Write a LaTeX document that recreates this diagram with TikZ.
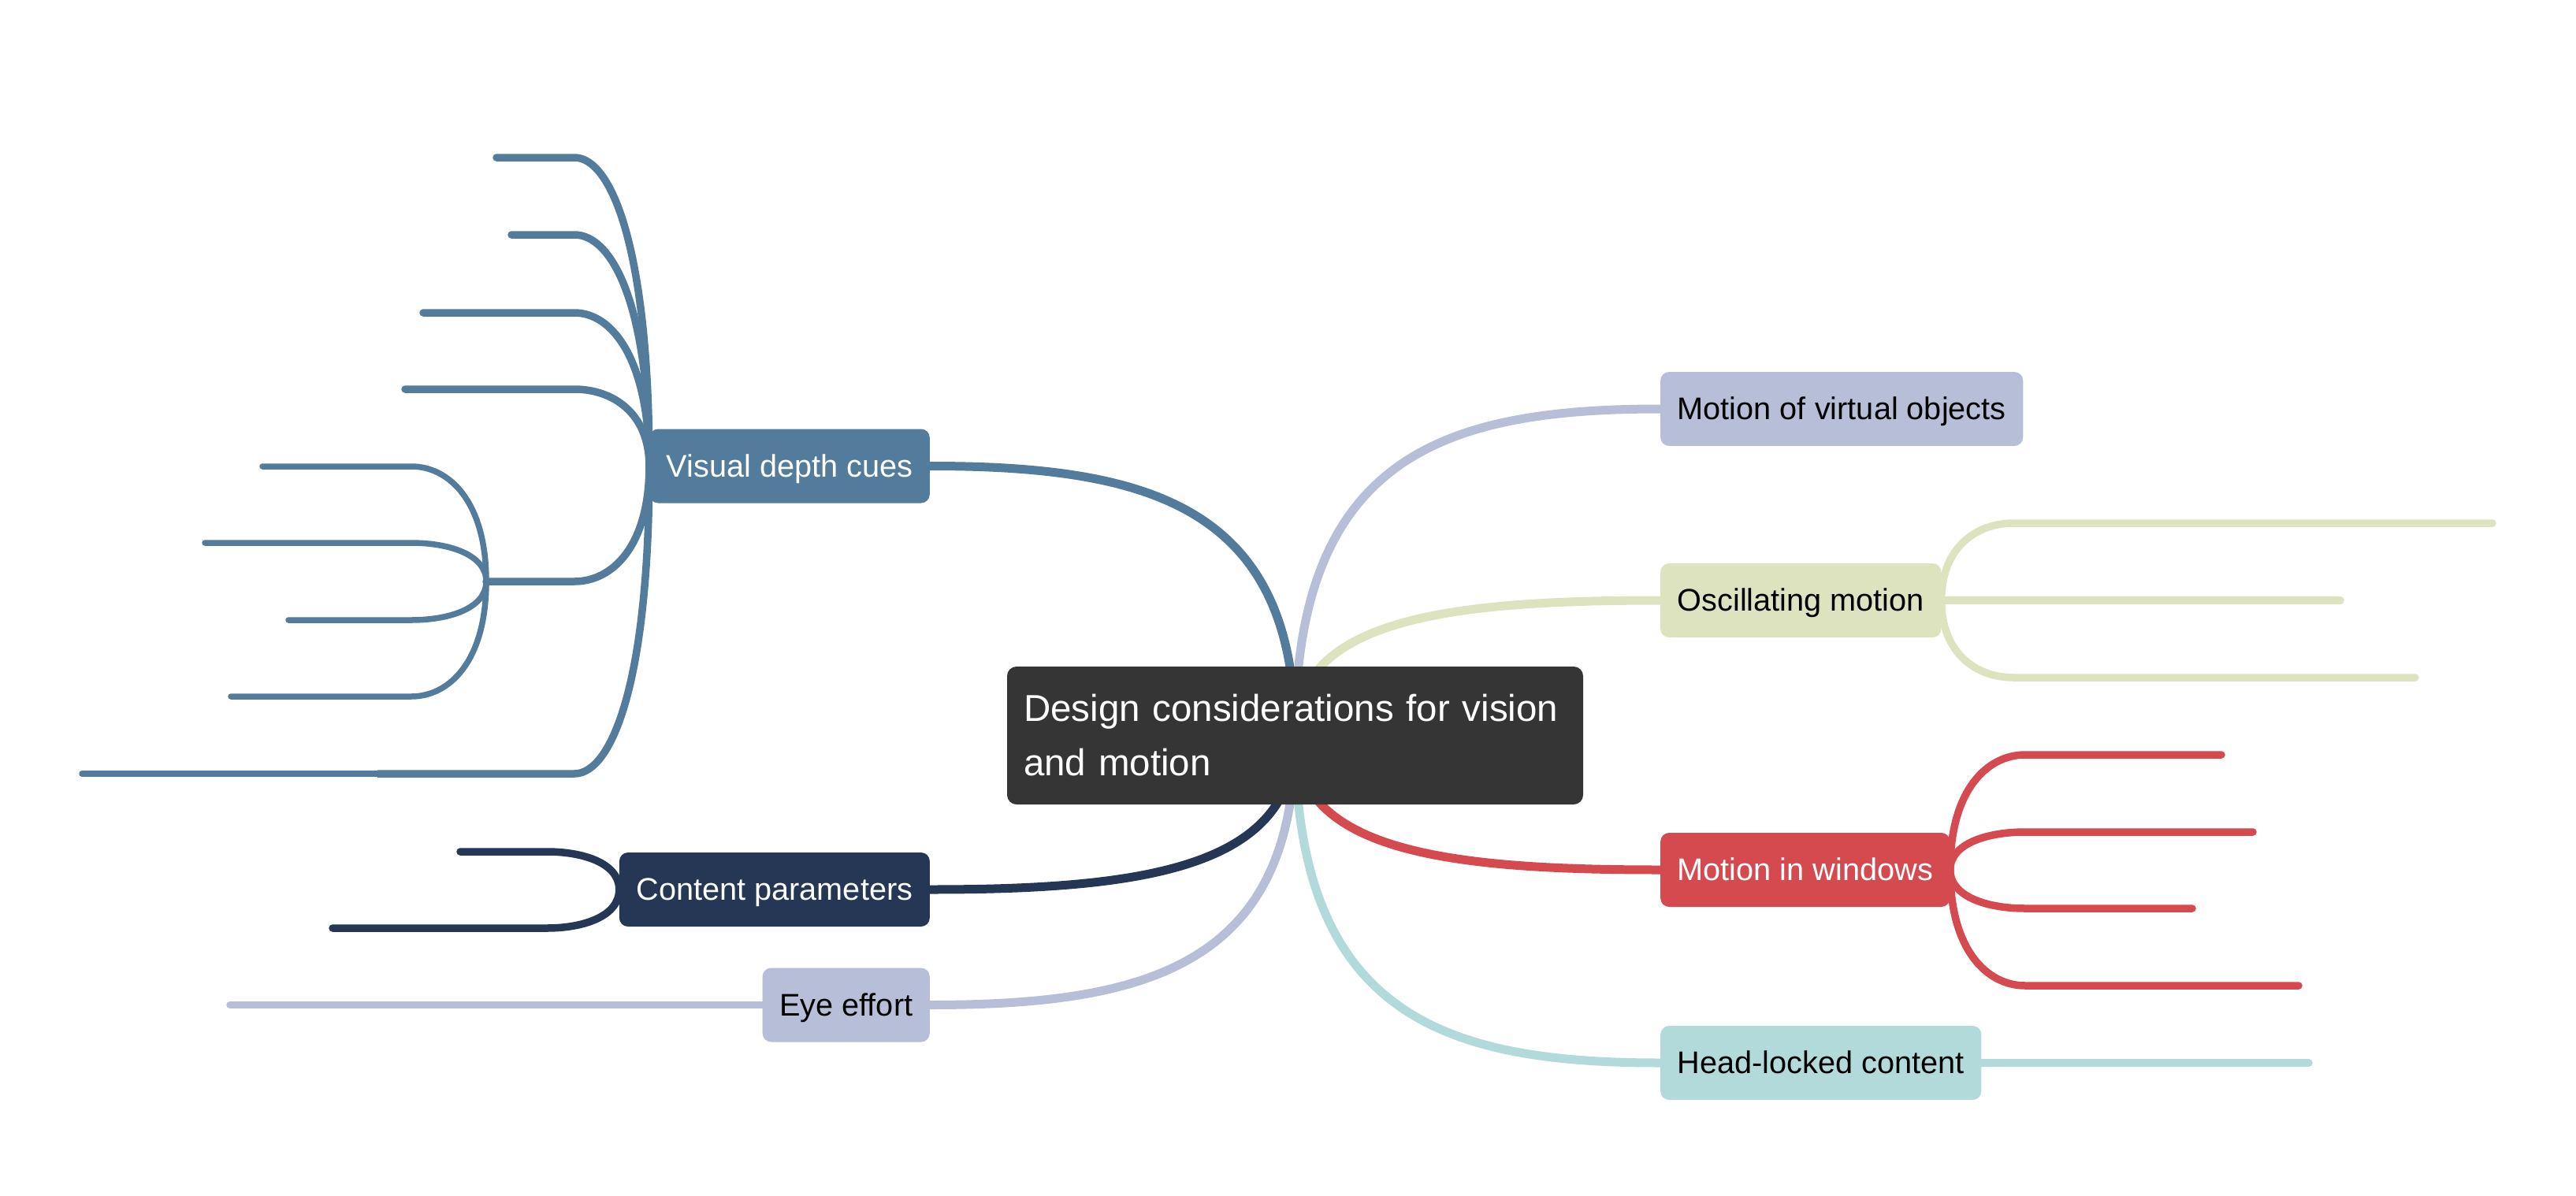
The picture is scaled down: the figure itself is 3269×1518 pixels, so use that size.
\documentclass[tikz,border=0pt]{standalone}
\usepackage{fontspec}
\setmainfont{Liberation Sans}
\usetikzlibrary{calc,backgrounds}
\definecolor{cdark}{HTML}{353535}
\definecolor{csteel}{HTML}{537B9C}
\definecolor{cnavy}{HTML}{263655}
\definecolor{clav}{HTML}{B6BED8}
\definecolor{coli}{HTML}{DDE3BF}
\definecolor{cred}{HTML}{D44A4E}
\definecolor{cteal}{HTML}{B3DADB}
\begin{document}
\begin{tikzpicture}[x=1pt,y=-1pt,
  central/.style={fill=cdark, text=white, rounded corners=12pt, inner xsep=21pt, inner ysep=0pt,
    text width=689pt, align=left, minimum height=175pt, font=\fontsize{47.5pt}{69pt}\selectfont},
  branch/.style={rounded corners=11pt, inner xsep=21.5pt, inner ysep=0pt, minimum height=94pt,
    text height=32pt, text depth=5pt, font=\fontsize{39.7pt}{48pt}\selectfont},
  mainlink/.style={line width=11pt, to path={.. controls ($(\tikztostart)!0.85!(\tikztostart|-\tikztotarget)$) and ($(\tikztotarget)!0.6!(\tikztostart|-\tikztotarget)$) .. (\tikztotarget) \tikztonodes}},
  forklink/.style={to path={.. controls ($(\tikztostart)!0.7!(\tikztostart|-\tikztotarget)$) and ($(\tikztotarget)!0.5!(\tikztostart|-\tikztotarget)$) .. (\tikztotarget) \tikztonodes}},
  subline/.style={line width=9.5pt, line cap=round},
  subsubline/.style={line width=7.5pt, line cap=round}
]
\useasboundingbox (0,0) rectangle (3269,1518);

% nodes
\node[central] (ctr) at (1643.5,933.5) {Design considerations for vision\\and motion};
\node[branch, fill=csteel, text=white, anchor=east] (vdc) at (1180,591.5) {Visual depth cues};
\node[branch, fill=cnavy, text=white, anchor=east] (cp) at (1180,1129) {Content parameters};
\node[branch, fill=clav, text=black, anchor=east] (ee) at (1180,1275.5) {Eye effort};
\node[branch, fill=clav, text=black, anchor=west] (movo) at (2107,519) {Motion of virtual objects};
\node[branch, fill=coli, text=black, anchor=west] (osc) at (2107,762) {Oscillating motion};
\node[branch, fill=cred, text=white, anchor=west] (miw) at (2107,1104) {Motion in windows};
\node[branch, fill=cteal, text=black, anchor=west] (hlc) at (2107,1349) {Head-locked content};

% coordinates: Visual depth cues subtree
\coordinate (v1) at (729,200);  \coordinate (v1t) at (630,200);
\coordinate (v2) at (729,298);  \coordinate (v2t) at (649,298);
\coordinate (v3) at (729,397);  \coordinate (v3t) at (537,397);
\coordinate (v4) at (729,494);  \coordinate (v4t) at (514,494);
\coordinate (v5) at (729,738);  \coordinate (v5f) at (617,738);
\coordinate (v6) at (729,982);  \coordinate (v6m) at (479,982); \coordinate (v6t) at (104,982);
\coordinate (w1) at (522,592);  \coordinate (w1t) at (333,592);
\coordinate (w2) at (522,689);  \coordinate (w2t) at (260,689);
\coordinate (w3) at (522,787);  \coordinate (w3t) at (366,787);
\coordinate (w4) at (522,884);  \coordinate (w4t) at (293,884);
% Content parameters
\coordinate (c1) at (694,1081); \coordinate (c1t) at (584,1081);
\coordinate (c2) at (694,1178); \coordinate (c2t) at (422,1178);
% Eye effort
\coordinate (eet) at (292,1275.5);
% Oscillating motion
\coordinate (o1) at (2555,664);  \coordinate (o1t) at (3163,664);
\coordinate (o2t) at (2970,762);
\coordinate (o3) at (2555,860);  \coordinate (o3t) at (3065,860);
% Motion in windows
\coordinate (m1) at (2570,958);  \coordinate (m1t) at (2819,958);
\coordinate (m2) at (2570,1056); \coordinate (m2t) at (2859,1056);
\coordinate (m3) at (2570,1153); \coordinate (m3t) at (2782,1153);
\coordinate (m4) at (2570,1251); \coordinate (m4t) at (2917,1251);
% Head-locked content
\coordinate (ht) at (2930,1349);

\begin{pgfonlayer}{background}
% main connectors
\draw[mainlink, csteel] (ctr.center) to (vdc.east);
\draw[mainlink, cnavy] (ctr.center) to (cp.east);
\draw[mainlink, clav] (ctr.center) to (ee.east);
\draw[mainlink, cteal] (ctr.center) to (hlc.west);
\draw[mainlink, cred] (ctr.center) to (miw.west);
\draw[mainlink, coli] (ctr.center) to (osc.west);
\draw[mainlink, clav] (ctr.center) to (movo.west);

% Visual depth cues
\draw[subline, csteel] (vdc.west) to[forklink] (v1) -- (v1t);
\draw[subline, csteel] (vdc.west) to[forklink] (v2) -- (v2t);
\draw[subline, csteel] (vdc.west) to[forklink] (v3) -- (v3t);
\draw[subline, csteel] (vdc.west) to[forklink] (v4) -- (v4t);
\draw[subline, csteel] (vdc.west) to[forklink] (v5) -- (v5f);
\draw[subline, csteel, line cap=butt] (vdc.west) to[forklink] (v6) -- (v6m);
\draw[subsubline, csteel] (v6m) -- (v6t);
\draw[subsubline, csteel] (v5f) to[forklink] (w1) -- (w1t);
\draw[subsubline, csteel] (v5f) to[forklink] (w2) -- (w2t);
\draw[subsubline, csteel] (v5f) to[forklink] (w3) -- (w3t);
\draw[subsubline, csteel] (v5f) to[forklink] (w4) -- (w4t);

% Content parameters
\draw[subline, cnavy] (cp.west) to[forklink] (c1) -- (c1t);
\draw[subline, cnavy] (cp.west) to[forklink] (c2) -- (c2t);

% Eye effort
\draw[subline, clav] (ee.west) -- (eet);

% Oscillating motion
\draw[subline, coli] (osc.east) to[forklink] (o1) -- (o1t);
\draw[subline, coli] (osc.east) -- (o2t);
\draw[subline, coli] (osc.east) to[forklink] (o3) -- (o3t);

% Motion in windows
\draw[subline, cred] (miw.east) to[forklink] (m1) -- (m1t);
\draw[subline, cred] (miw.east) to[forklink] (m2) -- (m2t);
\draw[subline, cred] (miw.east) to[forklink] (m3) -- (m3t);
\draw[subline, cred] (miw.east) to[forklink] (m4) -- (m4t);

% Head-locked content
\draw[subline, cteal] (hlc.east) -- (ht);
\end{pgfonlayer}
\end{tikzpicture}
\end{document}
